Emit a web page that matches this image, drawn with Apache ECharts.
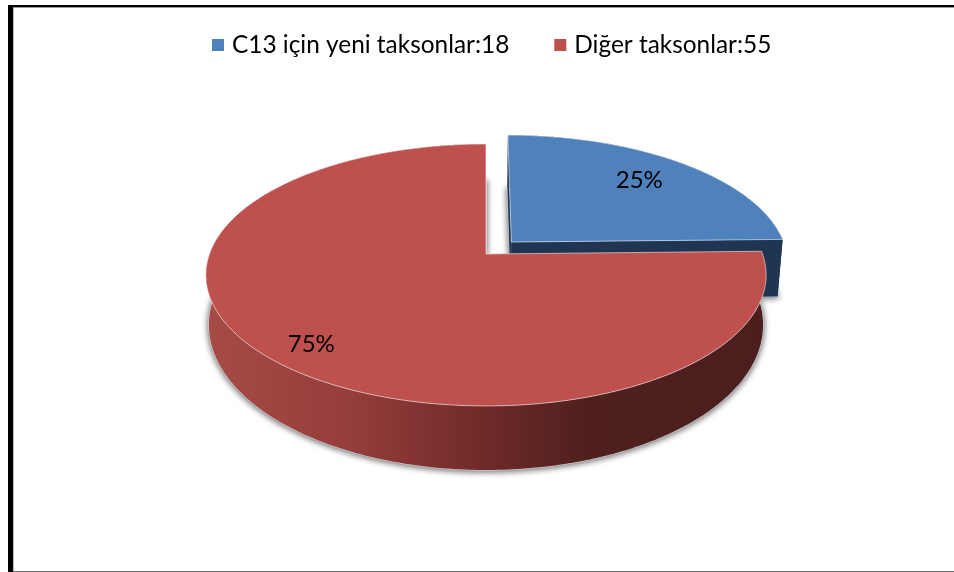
<!DOCTYPE html>
<html>
<head>
<meta charset="utf-8">
<style>html,body{margin:0;padding:0;background:#fff}#c{width:954px;height:572px}</style>
<script src="https://cdn.jsdelivr.net/npm/echarts@6/dist/echarts.min.js"></script>
</head>
<body>
<div id="c"></div>
<script>
const categories = ['C13 için yeni taksonlar:18', 'Diğer taksonlar:55'];
const values = [18, 55];
const colors = ['#4F81BD', '#BE504D'];
const wallColors = ['#1F3552', null];

const total = values.reduce((a, b) => a + b, 0);
const FONT = 'Lato, "Open Sans", sans-serif';
const apex = { x: 486, y: 254 };
const persp = { a: 127.6, b: 276.5, p: 0.1603 };
const TAU = Math.PI * 2;

function project(u, v) {
  const w = 1 - persp.p * v;
  return { X: persp.b * u / w, Y: persp.a * v / w };
}
function topPt(u, v) {
  const q = project(u, v);
  return [apex.x + q.X, apex.y + q.Y];
}
function makeBot(d) {
  return function (u, v) {
    const q = project(u, v);
    return [apex.x + q.X * d.sx, apex.y + d.dy + q.Y * d.sy];
  };
}
function arc(fn, a0, a1, ox, oy) {
  const pts = [];
  const n = Math.max(2, Math.ceil(Math.abs(a1 - a0) / (TAU / 720)));
  for (let i = 0; i <= n; i++) {
    const t = a0 + (a1 - a0) * i / n;
    pts.push(fn(ox + Math.sin(t), oy - Math.cos(t)));
  }
  return pts;
}
function poly(points, style) {
  return { type: 'polygon', shape: { points }, style, silent: true };
}
function sliceRender(index, explode, labelR, nudge, d) {
  const botPt = makeBot(d);
  return function (params, api) {
    const value = api.value(0);
    let before = 0;
    for (let i = 0; i < index; i++) before += values[i];
    const a0 = before / total * TAU;
    const a1 = (before + value) / total * TAU;
    const mid = (a0 + a1) / 2;
    const ox = explode * Math.sin(mid);
    const oy = -explode * Math.cos(mid);
    const topArc = arc(topPt, a0, a1, ox, oy);
    const botArc = arc(botPt, a0, a1, ox, oy);
    const A = topPt(ox, oy);
    const B = botPt(ox, oy);
    const fill = colors[index];
    const wallFill = wallColors[index] || new echarts.graphic.LinearGradient(0, 0, 1, 0, [
      { offset: 0, color: '#A84B47' },
      { offset: 0.28, color: '#923C39' },
      { offset: 0.5, color: '#6E2A28' },
      { offset: 0.68, color: '#4F201E' },
      { offset: 1, color: '#4A1F1E' }
    ]);
    const children = [];
    children.push(poly([B].concat(botArc), {
      fill: '#bbb', stroke: '#c8c8c8', lineWidth: 1.5,
      shadowBlur: 6, shadowColor: 'rgba(0,0,0,0.6)', shadowOffsetY: 1
    }));
    const wall = topArc.concat(botArc.slice().reverse());
    children.push(poly(wall, { fill: wallFill }));
    children.push(poly([A, topArc[0], botArc[0], B], { fill: wallColors[index] || '#4A1F1E' }));
    children.push(poly([A, topArc[topArc.length - 1], botArc[botArc.length - 1], B], { fill: wallColors[index] || '#4A1F1E' }));
    children.push(poly([A].concat(topArc), {
      fill, stroke: 'rgba(255,255,255,0.55)', lineWidth: 1, lineJoin: 'round'
    }));
    const lp = topPt(ox + labelR * Math.sin(mid), oy - labelR * Math.cos(mid));
    children.push({
      type: 'text', silent: true,
      style: {
        text: Math.round(value / total * 100) + '%',
        x: lp[0] + nudge[0], y: lp[1] + nudge[1], align: 'center', verticalAlign: 'middle',
        fill: '#000', font: '24px ' + FONT
      }
    });
    return { type: 'group', children };
  };
}

const chart = echarts.init(document.getElementById('c'), null, { renderer: 'canvas' });
chart.setOption({
  animation: false,
  backgroundColor: '#fff',
  legend: {
    left: 207, top: 28, itemWidth: 12, itemHeight: 12, itemGap: 45, icon: 'rect',
    selectedMode: false,
    data: categories,
    textStyle: { fontFamily: FONT, fontSize: 24.4, color: '#000', padding: [0, 0, 0, 3] }
  },
  graphic: [
    { type: 'rect', silent: true, shape: { x: 8, y: 5, width: 946, height: 2 }, style: { fill: '#000' } },
    { type: 'rect', silent: true, shape: { x: 13, y: 7, width: 941, height: 1 }, style: { fill: '#999' } },
    { type: 'rect', silent: true, shape: { x: 8, y: 5, width: 5, height: 567 }, style: { fill: '#000' } },
    { type: 'rect', silent: true, shape: { x: 13, y: 8, width: 1, height: 563 }, style: { fill: '#bbb' } },
    { type: 'rect', silent: true, shape: { x: 13, y: 571, width: 941, height: 1 }, style: { fill: '#666' } }
  ],
  series: [
    {
      type: 'custom', name: categories[0], coordinateSystem: 'none',
      itemStyle: { color: colors[0] }, data: [values[0]],
      renderItem: sliceRender(0, 0.133, 0.72, [3, -3], { dy: 57.6, sy: 1.042, sx: 0.983 }), z: 2
    },
    {
      type: 'custom', name: categories[1], coordinateSystem: 'none',
      itemStyle: { color: colors[1] }, data: [values[1]],
      renderItem: sliceRender(1, 0, 0.84, [5, 6], { dy: 47.75, sy: 1.107, sx: 0.989 }), z: 3
    }
  ]
});
</script>
</body>
</html>
